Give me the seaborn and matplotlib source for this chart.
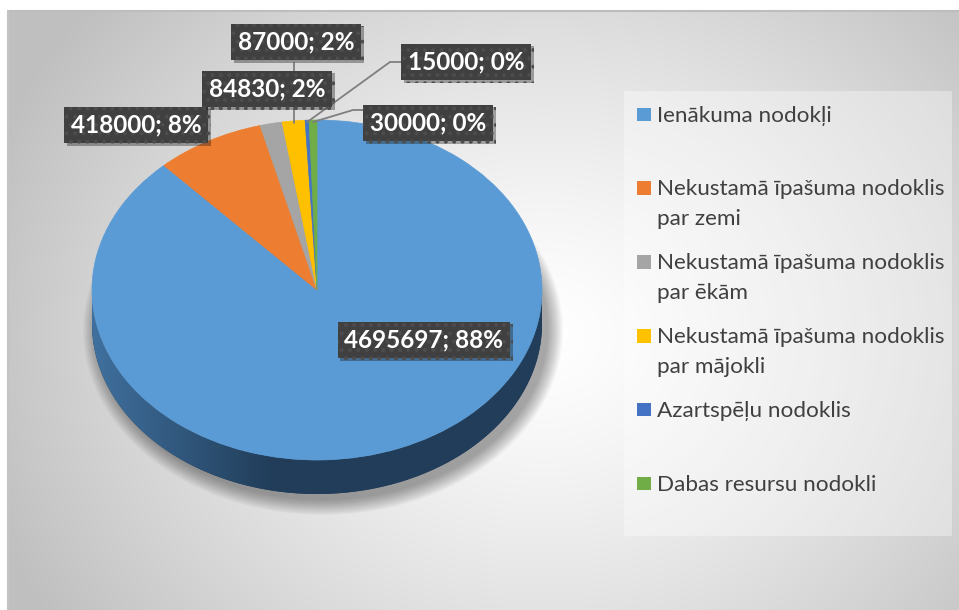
import numpy as np
import matplotlib.pyplot as plt
import matplotlib.patches as mpatches
import matplotlib.patheffects as pe
import seaborn as sns

# ----------------------------------------------------------------
# Data
# ----------------------------------------------------------------
categories = [
    "Ienākuma nodokļi",
    "Nekustamā īpašuma nodoklis\npar zemi",
    "Nekustamā īpašuma nodoklis\npar ēkām",
    "Nekustamā īpašuma nodoklis\npar mājokli",
    "Azartspēļu nodoklis",
    "Dabas resursu nodokli",
]
values = [4695697, 418000, 84830, 87000, 15000, 30000]
pct_labels = ["88%", "8%", "2%", "2%", "0%", "0%"]
slice_colors = ["#5B9BD5", "#ED7D31", "#A5A5A5", "#FFC000", "#4472C4", "#70AD47"]

# ----------------------------------------------------------------
# Layout (pixels)
# ----------------------------------------------------------------
W, H = 959, 610
CX, CY, RX, RY, DEPTH = 317, 290, 225, 170, 34

# label box centres, one per slice
label_pos = [(424, 340), (136, 125), (267, 89), (296, 42), (466, 62), (428, 123)]
# leader line start points (box edge, elbow) for the small slices
leader_start = {3: [(None, 63)], 4: [(401, 62), (390, 62)], 5: [(363, 110), (353, 110)]}

sns.set_style("white")
plt.rcParams['font.family'] = ['Lato', 'DejaVu Sans']
plt.rcParams['hatch.linewidth'] = 1.6

fig = plt.figure(figsize=(W / 100, H / 100), dpi=100)
fig.patch.set_facecolor("white")

# background gradient
bg = fig.add_axes([0, 0, 1, 1])
bg.set_xlim(0, W)
bg.set_ylim(H, 0)
bg.axis("off")
yy, xx = np.mgrid[0:H, 0:W]
r = np.hypot(xx - 540, (yy - 330) * 1.15) / 600
shade = 1 - 0.25 * np.clip(r, 0, 1) ** 1.3
bg.imshow(np.dstack([shade] * 3), extent=(8, W, H, 11), aspect="auto", zorder=0)
bg.plot([8, W], [11, 11], color="#bdbdbd", lw=1.5, zorder=1)
bg.plot([8, 8], [11, H], color="#c4c4c4", lw=1.5, zorder=1)

# legend panel
bg.add_patch(mpatches.Rectangle((624, 91), 328, 445, facecolor="white",
                                alpha=0.35, edgecolor="none", zorder=1))

# ----------------------------------------------------------------
# Pie (data units: radius 1 -> RX px horizontally, RY px vertically)
# ----------------------------------------------------------------
pax = fig.add_axes([0, 0, 1, 1])
pax.patch.set_visible(False)
d = DEPTH / RY

# soft shadow
for k in range(16):
    pax.add_patch(mpatches.Ellipse((6 / RX, -d - 6 / RY),
                                   2 * (1 + k * 1.0 / RX), 2 * (1 + k * 1.0 / RY),
                                   facecolor="black", alpha=0.022, edgecolor="none", zorder=1))

# side wall
t = np.linspace(np.pi, 2 * np.pi, 200)
side_xy = np.concatenate([np.column_stack([np.cos(t), np.sin(t)]),
                          np.column_stack([np.cos(t[::-1]), np.sin(t[::-1]) - d])])
side = mpatches.Polygon(side_xy, closed=True, facecolor="#223f5c", edgecolor="none", zorder=2)
pax.add_patch(side)
gx = np.linspace(-1, 1, 300)
gcol = np.clip((gx + 1) / 0.8, 0, 1)
c_left = np.array([0.25, 0.44, 0.62])
c_right = np.array([0.13, 0.24, 0.35])
grad = c_left[None, :] * (1 - gcol[:, None]) + c_right[None, :] * gcol[:, None]
im = pax.imshow(grad[None, :, :], extent=(-1, 1, -1 - d, 0), aspect="auto", zorder=2.5)
im.set_clip_path(side)

wedges, _ = pax.pie(values, colors=slice_colors, startangle=90, counterclock=False,
                    radius=1, center=(0, 0),
                    wedgeprops=dict(linewidth=0.5, zorder=3))
for w_, c in zip(wedges, slice_colors):
    w_.set_edgecolor(c)

pax.set_aspect("auto")
pax.set_xlim(-CX / RX, (W - CX) / RX)
pax.set_ylim((CY - H) / RY, CY / RY)
pax.axis("off")

# ----------------------------------------------------------------
# Labels, leader lines, legend (pixel overlay)
# ----------------------------------------------------------------
ov = fig.add_axes([0, 0, 1, 1])
ov.patch.set_visible(False)
ov.set_xlim(0, W)
ov.set_ylim(H, 0)
ov.axis("off")

total = sum(values)
cum = np.cumsum([0] + values) / total
for i, pts in leader_start.items():
    mid = (cum[i] + cum[i + 1]) / 2
    ang = np.deg2rad(90 - 360 * mid)
    axp = CX + RX * np.cos(ang)
    ayp = CY - RY * np.sin(ang) + 2
    xs = [p[0] if p[0] is not None else axp for p in pts] + [axp]
    ys = [p[1] for p in pts] + [ayp]
    ov.plot(xs, ys, color="#7f7f7f", lw=1.3, zorder=2)

for v, p, (lx, ly) in zip(values, pct_labels, label_pos):
    txt = ov.text(lx, ly, f"{v}; {p}", color="white", fontsize=17.5, fontweight="bold",
                  ha="center", va="center", zorder=5,
                  bbox=dict(boxstyle="square,pad=0.28", facecolor="#404040",
                            edgecolor="#4d4d4d", linewidth=0, hatch=".."))
    txt.get_bbox_patch().set_path_effects([pe.SimplePatchShadow(offset=(2, -2), alpha=0.35),
                                           pe.Normal()])

for i, (name, c) in enumerate(zip(categories, slice_colors)):
    base = 121.5 + 73.85 * i
    ov.add_patch(mpatches.Rectangle((637, base - 14), 13.5, 13.5, facecolor=c,
                                    edgecolor="none", zorder=4))
    for j, line in enumerate(name.split("\n")):
        ov.text(657, base + 29.5 * j, line, color="#404040", fontsize=16.2,
                ha="left", va="baseline", zorder=4)

fig.savefig("out.png", dpi=100)
